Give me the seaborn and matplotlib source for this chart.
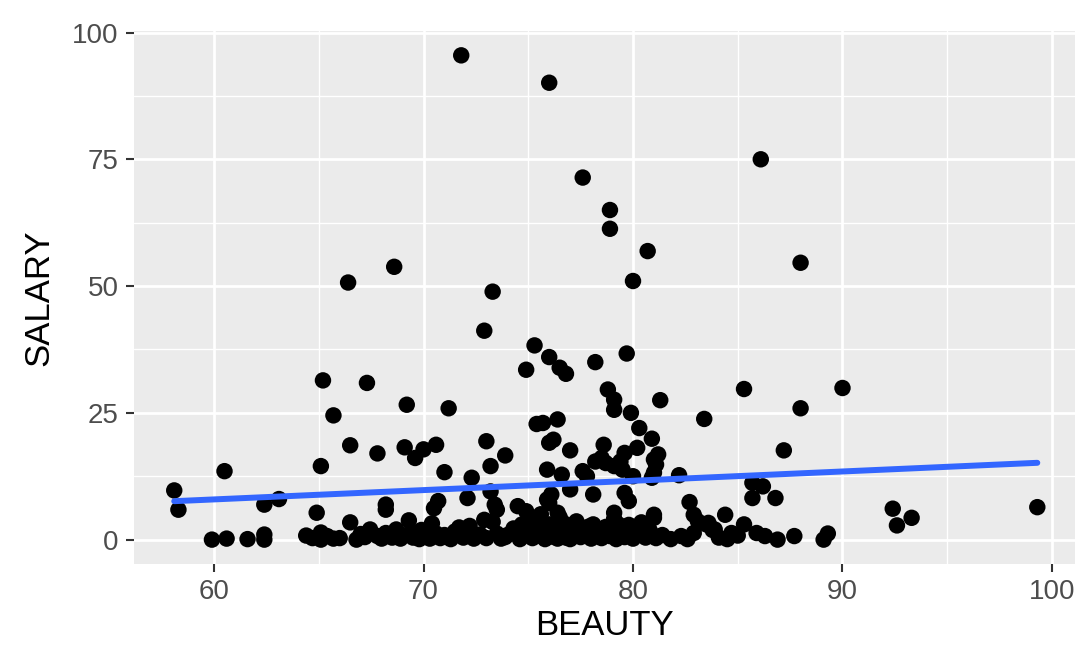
import matplotlib
matplotlib.use("Agg")
import matplotlib.pyplot as plt
from matplotlib.ticker import MultipleLocator
import seaborn as sns
import pandas as pd

# Scores and salaries, upper points first, then the crowded band near zero
beauty = [
    71.8, 76.0, 86.1, 77.6, 78.9, 78.9, 80.7, 88.0, 68.6, 66.4, 80.0, 73.3,
    72.9, 75.3, 74.9, 76.0, 76.5, 76.8, 78.2, 79.7, 65.2, 67.3, 85.3, 90.0,
    78.8, 79.1, 79.1, 81.3, 69.2, 71.2, 88.0, 65.7, 79.9, 83.4, 75.4, 75.7,
    76.4, 80.3, 76.2, 76.0, 73.0, 80.9, 66.5, 70.6, 70.0, 69.1, 78.6, 67.8,
    69.6, 73.9, 77.0, 87.2, 79.6, 80.2, 81.2, 78.2, 78.5, 78.7, 79.1, 79.4,
    81.0, 81.1, 60.5, 65.1, 71.0, 73.2, 75.9, 76.6, 77.6, 77.8, 79.5, 80.0,
    81.0, 80.9, 82.2, 72.3, 85.7, 86.2, 58.1, 73.2, 77.0, 76.1, 78.1, 79.6,
    72.1, 63.1, 79.8, 70.7, 82.7, 76.0, 85.7, 86.8, 62.4, 68.2, 68.2, 74.5,
    70.5, 58.3, 92.4, 99.3, 73.5, 74.9, 76.4, 64.9, 73.4, 75.9, 79.1, 81.0,
    84.4, 85.3, 92.6, 93.3, 66.5, 69.3, 82.9, 83.1, 83.6, 83.9,
    59.9, 60.6, 61.6, 62.4, 62.4,
    64.4, 64.7, 65.1, 65.1, 65.4, 65.7, 66.8, 67.2, 67.45, 67.8, 68.0, 68.2,
    68.5, 68.7, 69.0, 69.4, 69.5, 69.8, 70.1, 70.3, 70.6, 70.8, 71.0, 71.3,
    71.5, 71.9, 72.2, 72.4, 72.7, 73.0, 73.3, 73.5, 73.7, 74.0, 74.3, 74.6,
    74.9, 75.1, 75.2, 75.4, 75.5, 75.6, 75.7, 75.8, 76.0, 76.1, 76.3, 76.4,
    76.5, 76.6, 76.8, 76.9, 77.0, 77.2, 77.3, 77.5, 77.6, 77.8, 78.0, 78.1,
    78.3, 78.5, 78.7, 78.9, 79.1, 79.2, 79.4, 79.6, 79.8, 80.0, 80.2, 80.4,
    80.6, 80.8, 81.0, 81.1, 81.4, 81.8, 82.3, 82.6, 82.9, 83.5, 83.8, 84.1,
    84.5, 84.7, 85.0, 85.9, 86.3, 86.9, 87.7, 89.1, 89.3,
    66.0, 67.0, 68.9, 69.9, 70.4, 71.2, 71.7, 72.5, 72.9, 73.9, 74.4, 74.7,
    75.3, 75.9, 76.7, 77.1, 77.9, 78.6, 79.3, 80.1,
]
salary = [
    95.5, 90.1, 75.0, 71.4, 65.0, 61.3, 56.9, 54.6, 53.8, 50.7, 51.0, 48.9,
    41.2, 38.3, 33.5, 36.0, 33.9, 32.7, 35.0, 36.7, 31.4, 30.9, 29.7, 29.9,
    29.6, 27.6, 25.6, 27.5, 26.6, 25.9, 25.9, 24.5, 25.0, 23.8, 22.8, 23.0,
    23.7, 22.0, 19.7, 19.1, 19.4, 19.9, 18.6, 18.7, 17.8, 18.2, 18.7, 17.0,
    16.1, 16.6, 17.6, 17.6, 17.1, 18.1, 16.8, 15.4, 16.1, 15.1, 14.5, 15.4,
    15.8, 14.8, 13.5, 14.5, 13.3, 14.5, 13.8, 12.8, 13.5, 12.5, 13.8, 12.5,
    13.2, 12.2, 12.7, 12.2, 11.2, 10.5, 9.7, 9.5, 9.9, 8.9, 8.9, 9.2,
    8.2, 8.0, 7.6, 7.6, 7.4, 7.2, 8.2, 8.2, 6.9, 6.9, 5.9, 6.6,
    6.2, 5.9, 6.1, 6.4, 5.9, 5.6, 5.3, 5.3, 6.9, 7.9, 5.3, 4.9,
    4.9, 3.0, 2.8, 4.3, 3.4, 3.8, 4.9, 3.6, 3.3, 2.0,
    0.0, 0.2, 0.1, 1.0, 0.0,
    0.8, 0.3, 1.4, 0.0, 0.7, 0.2, 0.0, 0.5, 2.0, 0.7, 0.2, 1.3,
    0.4, 2.0, 0.9, 1.3, 0.4, 0.1, 0.8, 0.2, 1.2, 0.3, 0.9, 0.1,
    1.6, 0.4, 2.7, 0.2, 1.0, 0.3, 3.5, 1.2, 0.2, 0.9, 2.2, 0.1,
    1.5, 3.8, 0.3, 2.4, 0.8, 5.0, 1.6, 0.1, 3.0, 0.6, 2.0, 0.2,
    4.4, 1.2, 0.4, 2.8, 0.1, 1.6, 3.6, 0.5, 2.2, 0.9, 0.2, 3.0,
    1.4, 0.3, 2.5, 0.7, 4.1, 0.1, 1.8, 0.5, 2.9, 0.2, 1.1, 3.4,
    0.4, 1.8, 4.3, 0.3, 0.9, 0.1, 0.7, 0.1, 1.3, 3.0, 1.9, 0.4,
    0.1, 1.3, 0.8, 1.3, 0.7, 0.0, 0.7, 0.0, 1.2,
    0.3, 1.1, 0.2, 1.9, 3.2, 0.6, 2.4, 0.9, 3.9, 0.5, 1.3, 3.0,
    1.1, 2.3, 3.2, 0.9, 2.6, 1.0, 3.0, 1.5,
]

df = pd.DataFrame({"BEAUTY": beauty, "SALARY": salary})

sns.set_theme(style="darkgrid")
plt.rcParams["font.family"] = ["Liberation Sans", "DejaVu Sans"]

fig = plt.figure(figsize=(10.79, 6.46), dpi=100)
ax = fig.add_axes([0.1242, 0.127, 0.8721, 0.825])
ax.set_facecolor("#EBEBEB")

sns.regplot(
    data=df, x="BEAUTY", y="SALARY", ax=ax, ci=None,
    scatter_kws=dict(s=140, color="black", edgecolor="none", alpha=1, zorder=3),
    line_kws=dict(color="#3366FF", lw=4.3, zorder=4),
)

ax.set_xlim(56.18, 101.1)
ax.set_ylim(-4.8, 100.3)
ax.xaxis.set_major_locator(MultipleLocator(10))
ax.xaxis.set_minor_locator(MultipleLocator(5))
ax.yaxis.set_major_locator(MultipleLocator(25))
ax.yaxis.set_minor_locator(MultipleLocator(12.5))

ax.grid(which="major", color="white", lw=2.0)
ax.grid(which="minor", color="white", lw=1.0)
ax.set_axisbelow(True)
for s in ax.spines.values():
    s.set_visible(False)

ax.tick_params(axis="both", which="major", length=6, width=1.5, color="#333333",
               labelsize=20, labelcolor="#4D4D4D", pad=5, bottom=True, left=True)
ax.tick_params(axis="both", which="minor", length=0)

ax.set_xlabel("BEAUTY", fontsize=25, color="black", labelpad=3)
ax.set_ylabel("SALARY", fontsize=25, color="black", labelpad=12)

fig.savefig("out.png", dpi=100, facecolor="white")
